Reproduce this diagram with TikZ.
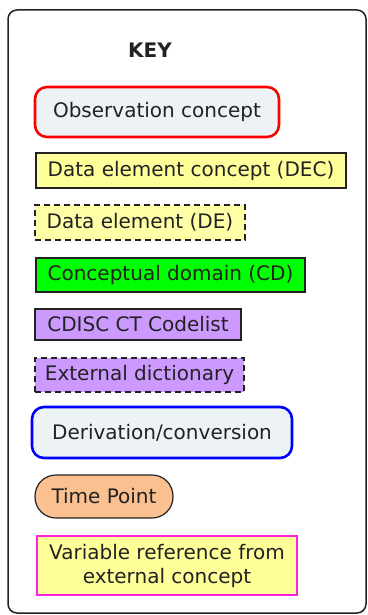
\documentclass[tikz,border=0pt]{standalone}
\usepackage{fontspec}
\setmainfont{DejaVu Sans}
\usetikzlibrary{arrows.meta,positioning}

\definecolor{obsfill}{HTML}{EDF2F4}
\definecolor{decfill}{HTML}{FFFF99}
\definecolor{defill}{HTML}{FFFFA8}
\definecolor{cdfill}{HTML}{00FF00}
\definecolor{ctfill}{HTML}{CC99FF}
\definecolor{tpfill}{HTML}{FAC090}
\definecolor{varline}{HTML}{FF22DD}
\definecolor{txt}{HTML}{222222}

\begin{document}
\begin{tikzpicture}[
  x=1pt,
  y=-1pt,
  every node/.style={font=\fontsize{20}{24}\selectfont, text=txt, inner sep=0pt},
  keybox/.style={draw=txt, line width=1.2pt, align=center},
  concept/.style={keybox, rounded corners=12pt, line width=2.6pt, fill=obsfill},
  dashbox/.style={keybox, dash pattern=on 6pt off 4pt},
  pill/.style={keybox, rounded corners=21pt, fill=tpfill}
]
  \useasboundingbox (0,0) rectangle (367,615);
  \draw[line width=1.5pt, draw=txt, rounded corners=9pt] (8,10) rectangle (366,613);

  \node[font=\fontsize{20}{24}\selectfont\bfseries] (key) at (150,50) {KEY};

  \node[concept, draw=red, minimum width=244pt, minimum height=50pt] (obs) at (157,112) {Observation concept};
  \node[keybox, fill=decfill, minimum width=310pt, minimum height=35pt] (dec) at (191,170.5) {Data element concept (DEC)};
  \node[dashbox, fill=defill, minimum width=210pt, minimum height=35pt] (de) at (140,222.5) {Data element (DE)};
  \node[keybox, fill=cdfill, minimum width=269pt, minimum height=34pt] (cd) at (170.5,275) {Conceptual domain (CD)};
  \node[keybox, fill=ctfill, minimum width=206pt, minimum height=31pt] (ct) at (138,324.5) {CDISC CT Codelist};
  \node[dashbox, fill=ctfill, minimum width=209pt, minimum height=34pt] (ext) at (139.5,375) {External dictionary};
  \node[concept, draw=blue, minimum width=260pt, minimum height=51pt] (deriv) at (162,432.5) {Derivation/conversion};
  \node[pill, minimum width=138pt, minimum height=43pt] (tp) at (104,496.5) {Time Point};
  \node[keybox, draw=varline, fill=decfill, minimum width=260pt, minimum height=59pt] (var) at (167,565.5) {Variable reference from\\external concept};
\end{tikzpicture}
\end{document}
